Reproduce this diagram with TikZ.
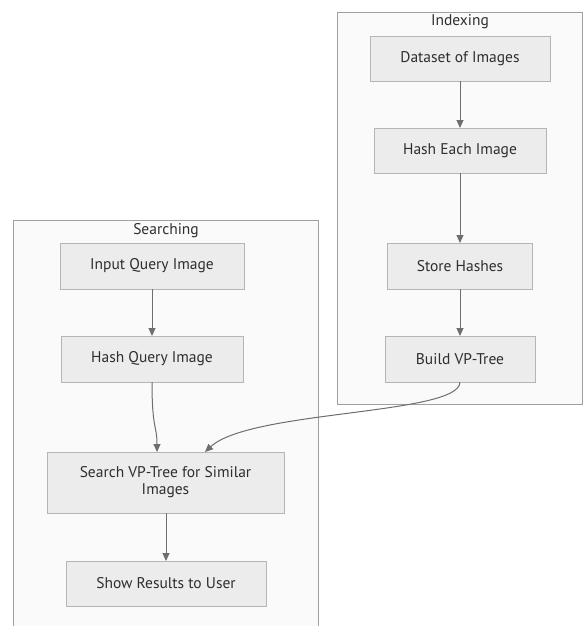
\documentclass[tikz,border=0pt]{standalone}
\usepackage{fontspec}
\setmainfont{PT Sans}
\usetikzlibrary{arrows.meta}
\definecolor{nodefill}{HTML}{ECECEC}
\definecolor{nodeline}{HTML}{B5B5B5}
\definecolor{clusterfill}{HTML}{FAFAFA}
\definecolor{clusterline}{HTML}{A0A0A0}
\definecolor{edgecol}{HTML}{6E6E6E}
\definecolor{txt}{HTML}{2E2E2E}
\tikzset{
  box/.style={draw=nodeline, fill=nodefill, line width=0.9pt, text=txt,
    font=\fontsize{15.5}{17}\selectfont, align=center, inner sep=0pt, outer sep=0pt},
  cluster/.style={draw=clusterline, fill=clusterfill, line width=0.9pt},
  ctitle/.style={text=txt, font=\fontsize{15.5}{17}\selectfont, inner sep=0pt},
  edge/.style={draw=edgecol, line width=1pt, -{Triangle[length=8pt,width=7pt]}}
}
\begin{document}
\begin{tikzpicture}[x=1pt,y=-1pt]
\path[use as bounding box] (0,0) rectangle (583,626);
\clip (0,0) rectangle (583,626);
\fill[white] (0,0) rectangle (583,626);
% clusters
\draw[cluster] (337,12) rectangle (582,404);
\node[ctitle] (tidx) at (460,22) {Indexing};
\draw[cluster] (13,640) -- (13,220) -- (318,220) -- (318,640);
\node[ctitle] (tsrc) at (166,231) {Searching};
% Indexing nodes
\node[box, minimum width=180pt, minimum height=45pt] (ds) at (460,58.5) {Dataset of Images};
\node[box, minimum width=172pt, minimum height=45pt] (he) at (460,150.5) {Hash Each Image};
\node[box, minimum width=145pt, minimum height=46pt] (sh) at (460,266) {Store Hashes};
\node[box, minimum width=150pt, minimum height=46pt] (bv) at (460,359) {Build VP-Tree};
% Searching nodes
\node[box, minimum width=184pt, minimum height=46pt] (iq) at (152,266) {Input Query Image};
\node[box, minimum width=182pt, minimum height=46pt] (hq) at (152,359) {Hash Query Image};
\node[box, minimum width=237pt, minimum height=61pt] (sv) at (165.5,482.5) {Search VP-Tree for Similar\\Images};
\node[box, minimum width=200pt, minimum height=45pt] (sr) at (166,583.5) {Show Results to User};
% edges
\draw[edge] (ds.south) -- (he.north);
\draw[edge] (he.south) -- (sh.north);
\draw[edge] (sh.south) -- (bv.north);
\draw[edge] (iq.south) -- (hq.north);
\draw[edge] (hq.south) .. controls (152,430) and (157,425) .. (sv.north -| 157,0);
\draw[edge] (bv.south) .. controls (460,415) and (250,410) .. (sv.north -| 205,0);
\draw[edge] (sv.south -| sr.north) -- (sr.north);
\end{tikzpicture}
\end{document}
